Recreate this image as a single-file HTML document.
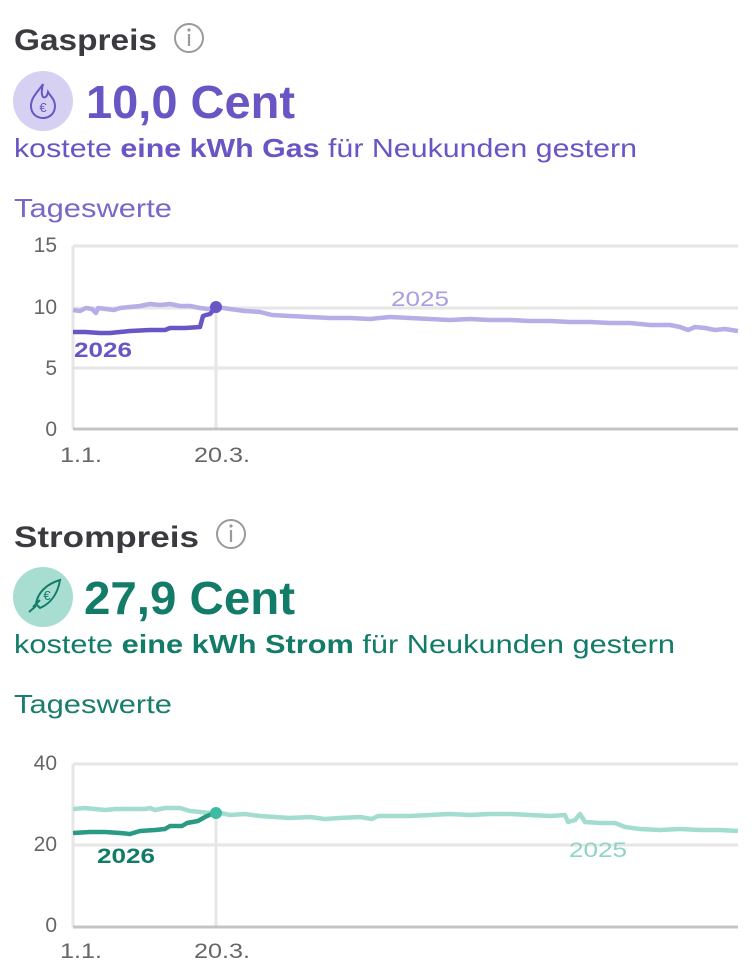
<!DOCTYPE html>
<html><head><meta charset="utf-8"><style>
html,body{margin:0;padding:0;background:#fff;width:754px;height:961px;overflow:hidden}
svg{display:block}
text{font-family:"Liberation Sans",sans-serif}
</style></head><body>
<svg width="754" height="961" viewBox="0 0 754 961" xmlns="http://www.w3.org/2000/svg">
<!-- GAS -->
<text x="14" y="50" font-size="30" font-weight="bold" fill="#3a3a40" textLength="143" lengthAdjust="spacingAndGlyphs">Gaspreis</text>
<circle cx="189" cy="38" r="14" fill="none" stroke="#9a9a9a" stroke-width="2"/>
<line x1="189" y1="34" x2="189" y2="46" stroke="#9a9a9a" stroke-width="2.2"/>
<circle cx="189" cy="30" r="1.6" fill="#9a9a9a"/>
<circle cx="43" cy="101" r="30" fill="#d6d0f2"/>
<path d="M43 84 C38 92 31 97 31 106 C31 114 37 118 43 118 C50 118 55 113 55 106 C55 99 50 96 48 92 C47 97 45 98 43 97 C41 94 42 88 43 84Z" fill="none" stroke="#6a55c5" stroke-width="2"/>
<text x="43" y="112" font-size="13" text-anchor="middle" fill="#6a55c5">€</text>
<text x="86" y="118" font-size="46" font-weight="bold" fill="#6a55c5" textLength="209" lengthAdjust="spacingAndGlyphs">10,0 Cent</text>
<text x="14" y="157" font-size="26" fill="#6a55c5" textLength="623" lengthAdjust="spacingAndGlyphs">kostete <tspan font-weight="bold">eine kWh Gas</tspan> für Neukunden gestern</text>
<text x="14" y="217" font-size="26" fill="#7a68c9" textLength="158" lengthAdjust="spacingAndGlyphs">Tageswerte</text>
<g stroke="#e6e6e6" stroke-width="3">
<line x1="73" y1="246" x2="738" y2="246"/><line x1="73" y1="308" x2="738" y2="308"/><line x1="73" y1="368" x2="738" y2="368"/>
<line x1="73" y1="246" x2="73" y2="429"/><line x1="216" y1="307" x2="216" y2="429"/>
</g>
<line x1="73" y1="429" x2="738" y2="429" stroke="#c4c4c4" stroke-width="3"/>
<g font-size="21" fill="#666" text-anchor="end">
<text x="57" y="252">15</text><text x="57" y="314">10</text><text x="57" y="375">5</text><text x="57" y="436">0</text>
</g>
<text x="60" y="462" font-size="21" fill="#666" textLength="42" lengthAdjust="spacingAndGlyphs">1.1.</text>
<text x="194" y="462" font-size="21" fill="#666" textLength="56" lengthAdjust="spacingAndGlyphs">20.3.</text>
<polyline fill="none" stroke="#b8ade6" stroke-width="4.5" stroke-linejoin="round" points="73,310 80,311 86,308 92,309 96,313 98,308 106,309 114,310 120,308 130,307 140,306 150,304 160,305 170,304 180,306 190,306 200,308 208,309 216,307 230,309 245,311 260,312 272,315 290,316 310,317 330,318 350,318 370,319 390,317 410,318 430,319 450,320 470,319 490,320 510,320 530,321 550,321 570,322 590,322 610,323 630,323 650,325 670,325 680,327 688,330 695,327 705,328 715,330 725,329 738,331"/>
<polyline fill="none" stroke="#6a55c5" stroke-width="4.5" stroke-linejoin="round" points="73,332 85,332 100,333 110,333 120,332 130,331 150,330 165,330 170,328 185,328 200,327 203,316 206,315 210,314 216,307"/>
<circle cx="216" cy="307" r="6" fill="#6a55c5"/>
<text x="74" y="357" font-size="21" font-weight="bold" fill="#6a55c5" textLength="58" lengthAdjust="spacingAndGlyphs">2026</text>
<text x="391" y="306" font-size="21" fill="#a99ee0" textLength="58" lengthAdjust="spacingAndGlyphs">2025</text>

<!-- STROM -->
<text x="14" y="547" font-size="30" font-weight="bold" fill="#3a3a40" textLength="185" lengthAdjust="spacingAndGlyphs">Strompreis</text>
<circle cx="231" cy="534" r="14" fill="none" stroke="#9a9a9a" stroke-width="2"/>
<line x1="231" y1="530" x2="231" y2="542" stroke="#9a9a9a" stroke-width="2.2"/>
<circle cx="231" cy="526" r="1.6" fill="#9a9a9a"/>
<circle cx="43" cy="597" r="30" fill="#a8ddd2"/>
<path d="M33 607 L40 600 M36 604 C38 590 50 583 60 580 C58 592 52 603 40 608Z M29 612 L36 606" fill="none" stroke="#127c68" stroke-width="2"/>
<text x="47" y="600" font-size="13" text-anchor="middle" fill="#127c68">€</text>
<text x="84" y="614" font-size="46" font-weight="bold" fill="#127c68" textLength="211" lengthAdjust="spacingAndGlyphs">27,9 Cent</text>
<text x="14" y="653" font-size="26" fill="#127c68" textLength="661" lengthAdjust="spacingAndGlyphs">kostete <tspan font-weight="bold">eine kWh Strom</tspan> für Neukunden gestern</text>
<text x="14" y="713" font-size="26" fill="#1a7e6c" textLength="158" lengthAdjust="spacingAndGlyphs">Tageswerte</text>
<g stroke="#e6e6e6" stroke-width="3">
<line x1="73" y1="764" x2="738" y2="764"/><line x1="73" y1="845" x2="738" y2="845"/>
<line x1="73" y1="764" x2="73" y2="927"/><line x1="216" y1="812" x2="216" y2="927"/>
</g>
<line x1="73" y1="927" x2="738" y2="927" stroke="#c4c4c4" stroke-width="3"/>
<g font-size="21" fill="#666" text-anchor="end">
<text x="57" y="770" >40</text><text x="57" y="851">20</text><text x="57" y="932">0</text>
</g>
<text x="60" y="958" font-size="21" fill="#666" textLength="42" lengthAdjust="spacingAndGlyphs">1.1.</text>
<text x="194" y="958" font-size="21" fill="#666" textLength="56" lengthAdjust="spacingAndGlyphs">20.3.</text>
<polyline fill="none" stroke="#a3ddd0" stroke-width="4.5" stroke-linejoin="round" points="73,809 85,808 95,809 105,810 115,809 130,809 145,809 150,808 155,810 165,808 180,808 190,811 200,812 210,813 216,812 230,815 245,814 260,816 275,817 290,818 310,817 325,819 340,818 360,817 372,819 378,816 395,816 410,816 430,815 450,814 470,815 490,814 510,814 530,815 550,816 565,815 568,822 575,820 580,814 585,822 600,823 615,823 625,827 640,829 660,830 680,829 700,830 720,830 738,831"/>
<polyline fill="none" stroke="#2a9a84" stroke-width="4.5" stroke-linejoin="round" points="73,833 90,832 105,832 120,833 130,834 140,831 155,830 165,829 170,826 182,826 187,823 198,821 205,817 216,812"/>
<circle cx="216" cy="813" r="6" fill="#3dbba3"/>
<text x="97" y="863" font-size="21" font-weight="bold" fill="#127c68" textLength="58" lengthAdjust="spacingAndGlyphs">2026</text>
<text x="569" y="857" font-size="21" fill="#8ed3c3" textLength="58" lengthAdjust="spacingAndGlyphs">2025</text>
</svg>
</body></html>
